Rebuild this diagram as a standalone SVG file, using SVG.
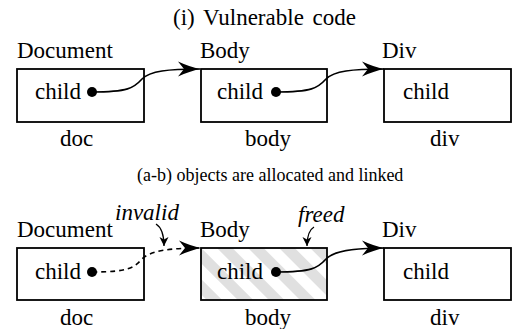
<svg xmlns="http://www.w3.org/2000/svg" width="518" height="329" viewBox="0 0 518 329" font-family="'Liberation Serif', 'Times New Roman', Times, 'DejaVu Serif', serif">
<style>
text{font-family:'Liberation Serif','Times New Roman',Times,'DejaVu Serif',serif;fill:#000}
.t{font-size:23px}
.it{font-size:23px;font-style:italic}
.cap{font-size:18px}
.box{fill:#fff;stroke:#000;stroke-width:1.8}
.hbox{fill:url(#hatch);stroke:#000;stroke-width:1.8}
.con{fill:none;stroke:#000;stroke-width:1.6}
.dash{stroke-dasharray:5 4}
.ptr{fill:none;stroke:#000;stroke-width:1.3}
</style>
<defs>
<pattern id="hatch" patternUnits="userSpaceOnUse" width="22" height="22" patternTransform="rotate(-45)">
<rect width="22" height="22" fill="#fff"/>
<rect width="11" height="22" fill="#e0e0e0"/>
</pattern>
<marker id="big" markerUnits="userSpaceOnUse" markerWidth="26" markerHeight="18" viewBox="-23 -9 24 18" refX="0" refY="0" orient="auto">
<path d="M0,0 Q-10,-2 -22,-7.5 L-16,0 L-22,7.5 Q-10,2 0,0 Z" fill="#000"/>
</marker>
<marker id="small" markerUnits="userSpaceOnUse" markerWidth="12" markerHeight="12" viewBox="-10 -6 11 12" refX="0" refY="0" orient="auto">
<path d="M0,0 L-9,-4.5 L-6.5,0 L-9,4.5 Z" fill="#000"/>
</marker>
</defs>

<text class="t" x="173" y="25" word-spacing="3">(i) Vulnerable code</text>

<g id="doc1">
<text class="t" x="17" y="58">Document</text>
<rect class="box" x="17" y="69" width="127" height="53"/>
<text class="t" x="35" y="99">child</text>
<circle cx="92" cy="92" r="5" fill="#000"/>
<text class="t" x="60" y="146">doc</text>
</g>
<g id="body1">
<text class="t" x="200" y="58">Body</text>
<rect class="box" x="201" y="69" width="126" height="53"/>
<text class="t" x="217" y="99">child</text>
<circle cx="276" cy="92" r="5" fill="#000"/>
<text class="t" x="245" y="146">body</text>
</g>
<g id="div1">
<text class="t" x="382" y="58">Div</text>
<rect class="box" x="384" y="69" width="127" height="53"/>
<text class="t" x="403" y="99">child</text>
<text class="t" x="430" y="146">div</text>
</g>

<text class="cap" x="137" y="181">(a-b) objects are allocated and linked</text>

<g id="doc2">
<text class="t" x="17" y="237">Document</text>
<rect class="box" x="17" y="248" width="127" height="52"/>
<text class="t" x="35" y="279">child</text>
<circle cx="92" cy="272" r="5" fill="#000"/>
<text class="t" x="60" y="325">doc</text>
</g>
<g id="body2">
<text class="t" x="200" y="237">Body</text>
<rect class="hbox" x="201" y="248" width="126" height="52"/>
<text class="t" x="217" y="279">child</text>
<circle cx="276" cy="272" r="5" fill="#000"/>
<text class="t" x="245" y="325">body</text>
</g>
<g id="div2">
<text class="t" x="382" y="237">Div</text>
<rect class="box" x="384" y="248" width="127" height="52"/>
<text class="t" x="403" y="279">child</text>
<text class="t" x="430" y="325">div</text>
</g>

<g id="annotations">
<text class="it" x="115" y="220">invalid</text>
<text class="it" x="298" y="222">freed</text>
</g>

<g id="connectors">
<path class="con" d="M92,92 C128,92 134,88 142,79 C150,71 168,69 200,69" marker-end="url(#big)"/>
<path class="con" d="M276,92 C312,92 318,88 326,79 C334,71 352,69 384,69" marker-end="url(#big)"/>
<path class="con dash" d="M92,272 C128,272 134,268 142,259 C150,251 168,248 201,248" marker-end="url(#big)"/>
<path class="con" d="M276,272 C312,272 318,268 326,259 C334,251 352,248 384,248" marker-end="url(#big)"/>
<path class="ptr" d="M156,224 Q164,229 164,246" marker-end="url(#small)"/>
<path class="ptr" d="M314,227 Q307,231 307,246" marker-end="url(#small)"/>
</g>
</svg>
